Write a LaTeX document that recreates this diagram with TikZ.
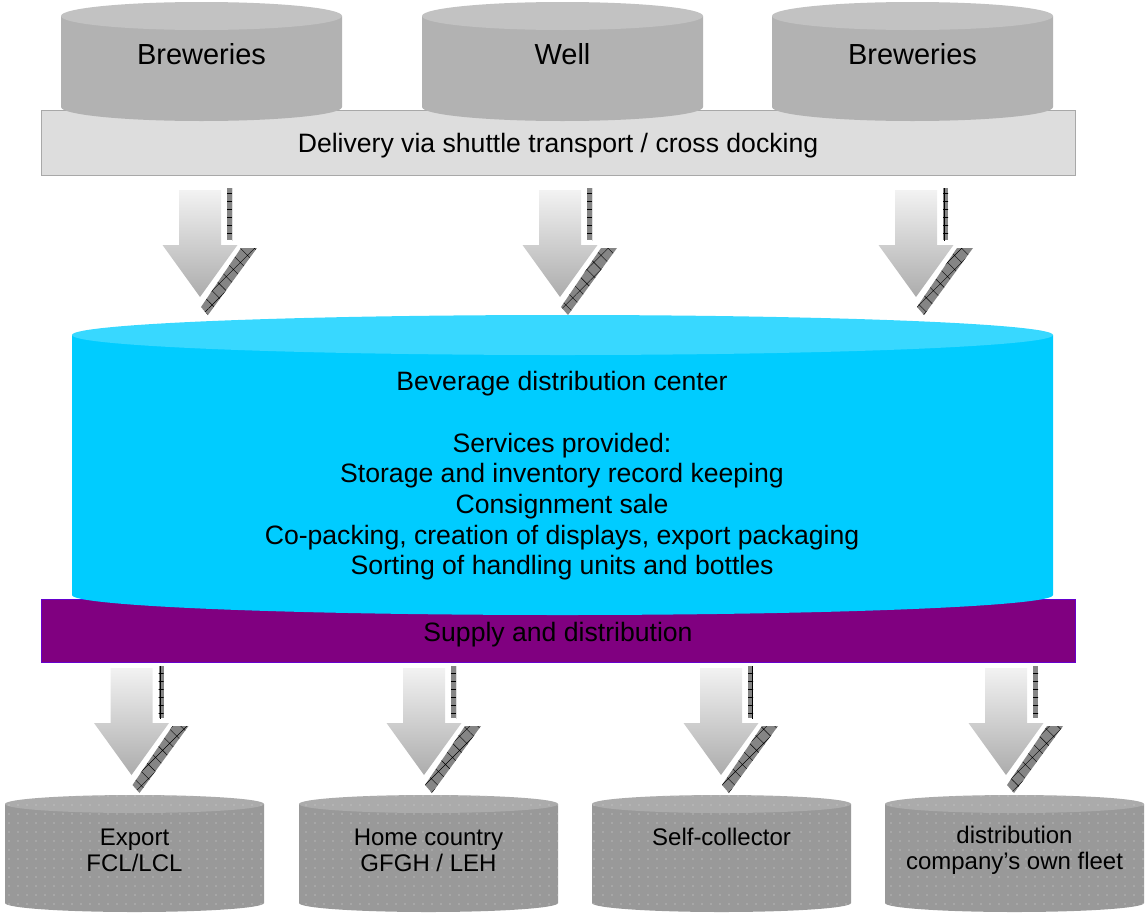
\documentclass[tikz,border=0pt]{standalone}
\usepackage{fontspec}
\setmainfont{Liberation Sans}
\usepackage{xcolor}
\definecolor{bdbody}{HTML}{B2B2B2}
\definecolor{bdlid}{HTML}{C2C2C2}
\definecolor{bdband}{HTML}{DDDDDD}
\definecolor{bdline}{HTML}{A8A8A8}
\definecolor{bdcyan}{HTML}{00CCFF}
\definecolor{bdcyanlid}{HTML}{38D8FF}
\definecolor{bdpurple}{HTML}{800080}
\definecolor{bdviolet}{HTML}{6600CC}
\definecolor{bddrum}{HTML}{999999}
\definecolor{bddrumlid}{HTML}{ABABAB}
\definecolor{bdhatch}{HTML}{858585}
\usepackage{tikz}
\usetikzlibrary{patterns.meta}
% #1 left x, #2 right x, #3 lid y, #4 floor y, #5 y radius, #6 body style, #7 lid style
\newcommand{\drum}[7]{%
  \path[#6] (#1,#3) -- (#1,#4)
    arc[start angle=180,end angle=360,x radius={(#2-#1)/2},y radius=#5] -- (#2,#3) -- cycle;
  \path[#7] ({(#1+#2)/2},#3) ellipse[x radius={(#2-#1)/2},y radius=#5];
}

\begin{document}
\begin{tikzpicture}[x=1pt,y=1pt,
  big/.style={font=\fontsize{29}{31}\selectfont},
  txt/.style={font=\fontsize{26.6}{30.7}\selectfont,align=center},
  small/.style={font=\fontsize{24}{26}\selectfont,align=center},
  hatchbar/.style={preaction={fill=bdhatch},pattern={Hatch[angle=0,distance=8pt,line width=0.4pt]},pattern color=black},
  hatchslant/.style={preaction={fill=bdhatch},pattern={Hatch[angle=45,distance=10pt,line width=0.4pt]},pattern color=black},
  dotted body/.style={preaction={fill=bddrum},pattern={Dots[distance=9pt,radius=0.55pt]},pattern color=gray!30},
  dotted lid/.style={preaction={fill=bddrumlid},pattern={Dots[distance=9pt,radius=0.55pt]},pattern color=gray!35},
  downarr/.pic={
    \path[hatchbar] (27,2) rectangle (32,-50);
    \path[hatchslant] (41,-58) -- (57,-58) -- (8,-125) -- (1,-117) -- cycle;
    \shade[top color=gray!10,bottom color=gray!65]
      (-21,0) -- (21,0) -- (21,-55) -- (37.5,-55) -- (0,-107) -- (-37.5,-55) -- (-21,-55) -- cycle;
  }]
  \useasboundingbox (0,0) rectangle (1145,-913);

  % sources
  \path[fill=bdband,draw=bdline] (41,-110) rectangle (1075,-175);
  \node[txt] (delivery) at (558,-146) {Delivery via shuttle transport / cross docking};
  \drum{61}{342}{-16}{-107}{14}{fill=bdbody}{fill=bdlid}
  \drum{422}{703}{-16}{-107}{14}{fill=bdbody}{fill=bdlid}
  \drum{772}{1053}{-16}{-107}{14}{fill=bdbody}{fill=bdlid}
  \node[big] (brew1) at (201.5,-54) {Breweries};
  \node[big] (well) at (562.5,-54) {Well};
  \node[big] (brew2) at (912.5,-54) {Breweries};

  % center
  \path[fill=bdpurple,draw=bdviolet] (41,-599) rectangle (1075,-662);
  \drum{72}{1053}{-335}{-595}{20}{fill=bdcyan}{fill=bdcyanlid}
  \node[txt] (center) at (562,-476) {Beverage distribution center\\[30.7pt]
    Services provided:\\
    Storage and inventory record keeping\\
    Consignment sale\\
    Co-packing, creation of displays, export packaging\\
    Sorting of handling units and bottles};
  \node[txt] (supply) at (558,-635) {Supply and distribution};

  % customers
  \drum{5}{264}{-804}{-903}{9}{dotted body}{dotted lid}
  \drum{299}{558}{-804}{-903}{9}{dotted body}{dotted lid}
  \drum{592}{851}{-804}{-903}{9}{dotted body}{dotted lid}
  \drum{885}{1144}{-804}{-903}{9}{dotted body}{dotted lid}
  \node[small] (export) at (134.5,-850) {Export\\FCL/LCL};
  \node[small] (home) at (428.5,-850) {Home country\\GFGH / LEH};
  \node[small] (self) at (721.5,-837) {Self-collector};
  \node[small] (fleet) at (1014.5,-850) {distribution\\company’s own fleet};

  % arrows
  \foreach \c in {200,560,916} \pic at (\c,-190) {downarr};
  \foreach \c in {131.5,424,721,1006} \pic at (\c,-668) {downarr};
\end{tikzpicture}
\end{document}
